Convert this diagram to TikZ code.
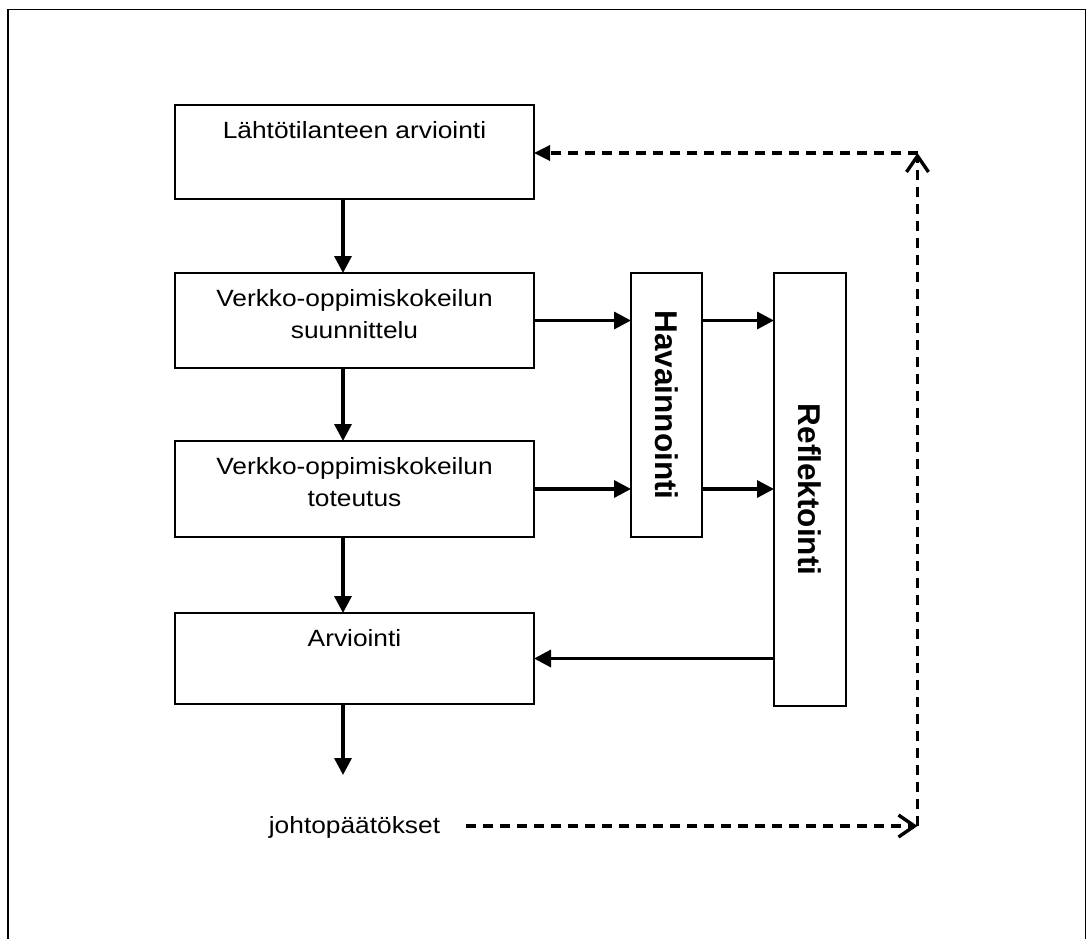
\documentclass[tikz,border=0pt]{standalone}
\usepackage{fontspec}
\setmainfont{Liberation Sans}
\newfontfamily\hfont{Liberation Sans}[FakeStretch=1.12]
\usetikzlibrary{arrows.meta}
\begin{document}
\begin{tikzpicture}[x=1pt,y=-1pt,
  box/.style={draw, line width=2pt, inner sep=0pt, outer sep=0pt, anchor=north west},
  txt/.style={font=\hfont\fontsize{23.5}{31.6}\selectfont, inner sep=0pt, anchor=base},
  vtxt/.style={font=\bfseries\fontsize{31.5}{36}\selectfont, rotate=-90, inner sep=0pt},
  arr/.style={line width=3.4pt, -{Triangle[length=17pt,width=17pt]}},
  darr/.style={line width=3.4pt, dash pattern=on 10pt off 7pt},
  openhead/.style={-{Straight Barb[length=16pt,width=22pt]}},
  fillhead/.style={-{Triangle[length=16pt,width=15pt]}}
]
\useasboundingbox (0,0) rectangle (1087,939);
\fill[white] (0,0) rectangle (1087,939);
% outer frame (bottom edge lies outside the picture)
\draw[line width=1.3pt] (8,939) -- (8,9.5) -- (1085.5,9.5) -- (1085.5,939);

% boxes
\node[box, minimum width=359pt, minimum height=94pt] (b1) at (175,105) {};
\node[box, minimum width=359pt, minimum height=95pt] (b2) at (175,273) {};
\node[box, minimum width=359pt, minimum height=96pt] (b3) at (175,441) {};
\node[box, minimum width=359pt, minimum height=91pt] (b4) at (175,613) {};
\node[box, minimum width=71pt, minimum height=264pt] (hav) at (631,273) {};
\node[box, minimum width=72pt, minimum height=433pt] (ref) at (774,273) {};

% texts
\node[txt] (t1) at (354.5,139) {Lähtötilanteen arviointi};
\node[txt] (t2a) at (354.5,306.7) {Verkko-oppimiskokeilun};
\node[txt] (t2b) at (354.5,338.3) {suunnittelu};
\node[txt] (t3a) at (354.5,474.7) {Verkko-oppimiskokeilun};
\node[txt] (t3b) at (354.5,506.3) {toteutus};
\node[txt] (t4) at (354.5,646) {Arviointi};
\node[vtxt] (th) at (hav.center) {Havainnointi};
\node[vtxt] (tr) at (ref.center) {Reflektointi};
\node[txt] (jt) at (354.5,833) {johtopäätökset};

% coordinates
\coordinate (ax) at (343,0);
\coordinate (endv) at (343,775);
\coordinate (c1) at (917.5,826);
\coordinate (c2) at (917.5,153);
\coordinate (js) at (466,826);

% solid arrows
\draw[arr] (b1.south -| ax) -- (b2.north -| ax);
\draw[arr] (b2.south -| ax) -- (b3.north -| ax);
\draw[arr] (b3.south -| ax) -- (b4.north -| ax);
\draw[arr] (b4.south -| ax) -- (endv);
\draw[arr] (b2.east) -- (b2.east -| hav.west);
\draw[arr] (b3.east) -- (b3.east -| hav.west);
\draw[arr] (hav.east |- b2.east) -- (ref.west |- b2.east);
\draw[arr] (hav.east |- b3.east) -- (ref.west |- b3.east);
\draw[arr] (ref.west |- b4.east) -- (b4.east);

% dashed feedback
\draw[darr, openhead] (js) -- (c1);
\draw[darr, openhead] (c1) -- (c2);
\draw[darr, fillhead] (c2) -- (b1.east |- c2);
\end{tikzpicture}
\end{document}
